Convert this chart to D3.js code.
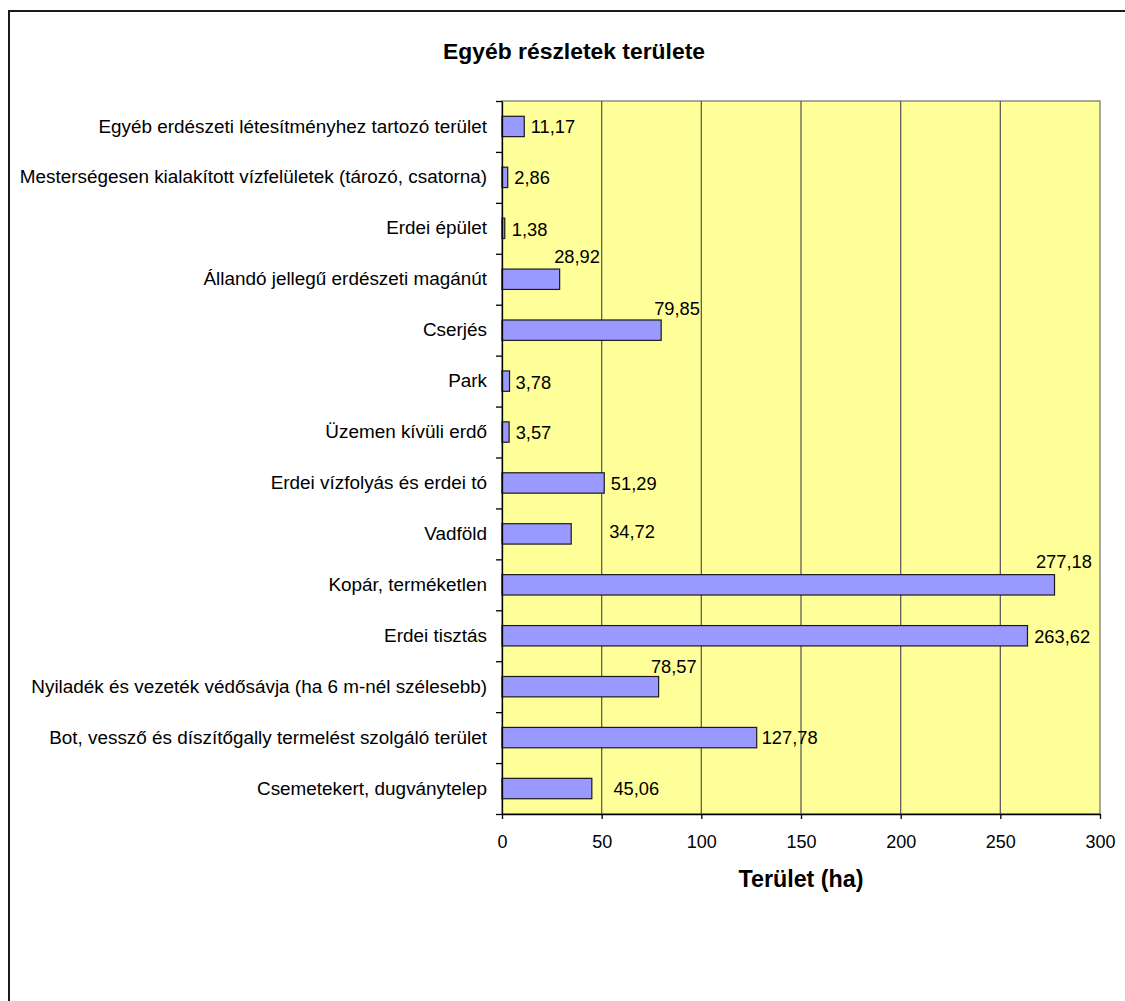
<!DOCTYPE html>
<html>
<head>
<meta charset="utf-8">
<script src="https://cdn.jsdelivr.net/npm/d3@7"></script>
<style>
    body { margin: 0; background: #fff; }
    text { font-family: "Liberation Sans", Arial, sans-serif; }
</style>
</head>
<body>
<div id="chart"></div>
<script>
// chart data
var categories = [
    "Egyéb erdészeti létesítményhez tartozó terület",
    "Mesterségesen kialakított vízfelületek (tározó, csatorna)",
    "Erdei épület",
    "Állandó jellegű erdészeti magánút",
    "Cserjés",
    "Park",
    "Üzemen kívüli erdő",
    "Erdei vízfolyás és erdei tó",
    "Vadföld",
    "Kopár, terméketlen",
    "Erdei tisztás",
    "Nyiladék és vezeték védősávja (ha 6 m-nél szélesebb)",
    "Bot, vessző és díszítőgally termelést szolgáló terület",
    "Csemetekert, dugványtelep"
];
var areas = [11.17, 2.86, 1.38, 28.92, 79.85, 3.78, 3.57, 51.29, 34.72, 277.18, 263.62, 78.57, 127.78, 45.06];
var xTicks = [0, 50, 100, 150, 200, 250, 300];
var chartTitle = "Egyéb részletek területe";
var xTitle = "Terület (ha)";

// label offsets from the bar end (Excel placed some of them above the bar)
var labelDx = [6.5, 6.6, 7, -5.5, -7, 6, 6.6, 6.6, 38, -18.6, 6.7, -7.7, 5, 21.6];
var labelDy = [0, 0, 0.7, -23, -22, 1, 0.6, 0.3, -2, -23, 1, -20.7, 0, -0.3];

var svgWidth = 1125;
var svgHeight = 1001;

// plot area
var plot = { left: 502, right: 1100, top: 101, bottom: 814 };

var svg = d3.select("#chart")
    .append("svg")
    .attr("width", svgWidth)
    .attr("height", svgHeight);

// outer chart frame (runs off the right and bottom of the picture)
svg.append("rect")
    .attr("x", 9)
    .attr("y", 11)
    .attr("width", svgWidth + 20)
    .attr("height", svgHeight + 20)
    .attr("fill", "#fff")
    .attr("stroke", "#1a1a1a")
    .attr("stroke-width", 2);

// scales
var xScale = d3.scaleLinear()
    .domain([0, 300])
    .range([plot.left, plot.right]);

var yScale = d3.scaleBand()
    .domain(categories)
    .range([plot.top, plot.bottom])
    .paddingInner(0.6)
    .paddingOuter(0.3);

// boundaries between categories, for the left tick marks
var yEdge = d3.scaleLinear()
    .domain([0, categories.length])
    .range([plot.top, plot.bottom]);

// plot background
svg.append("rect")
    .attr("x", plot.left)
    .attr("y", plot.top)
    .attr("width", plot.right - plot.left)
    .attr("height", plot.bottom - plot.top)
    .attr("fill", "#ffff99")
    .attr("stroke", "#8a8a8a")
    .attr("stroke-width", 1.5);

// vertical gridlines
svg.append("g")
    .selectAll("line")
    .data(xTicks.slice(1, -1))
    .enter()
    .append("line")
    .attr("x1", d => xScale(d))
    .attr("x2", d => xScale(d))
    .attr("y1", plot.top)
    .attr("y2", plot.bottom)
    .attr("stroke", "#5e5e5e")
    .attr("stroke-width", 1.3);

// bars
svg.append("g")
    .selectAll("rect")
    .data(areas)
    .enter()
    .append("rect")
    .attr("x", xScale(0))
    .attr("y", (d, i) => yScale(categories[i]))
    .attr("width", d => xScale(d) - xScale(0))
    .attr("height", yScale.bandwidth())
    .attr("fill", "#9999ff")
    .attr("stroke", "#1a1a1a")
    .attr("stroke-width", 1.2);

// value labels, comma as decimal separator
var huFormat = d3.formatLocale({ decimal: ",", thousands: " ", grouping: [3], currency: ["", " Ft"] }).format(".2f");

svg.append("g")
    .selectAll("text")
    .data(areas)
    .enter()
    .append("text")
    .attr("x", (d, i) => xScale(d) + labelDx[i])
    .attr("y", (d, i) => yScale(categories[i]) + yScale.bandwidth() / 2 + labelDy[i])
    .attr("dy", "0.36em")
    .style("font-size", "18.3px")
    .style("fill", "#000")
    .text(d => huFormat(d));

// left axis: category names
var leftAxis = d3.axisLeft(yScale).tickSize(0).tickPadding(15);
var yAxis = svg.append("g")
    .attr("transform", `translate(${plot.left}, 0)`)
    .call(leftAxis);
yAxis.select(".domain").remove();
yAxis.selectAll("text")
    .style("font-size", "18.9px")
    .style("fill", "#000");

// left axis: line and tick marks between categories
var edgeAxis = d3.axisLeft(yEdge)
    .tickValues(d3.range(categories.length + 1))
    .tickSize(6)
    .tickSizeOuter(0)
    .tickFormat("");
svg.append("g")
    .attr("transform", `translate(${plot.left}, 0)`)
    .call(edgeAxis)
    .selectAll("line, path")
    .attr("stroke", "#000")
    .attr("stroke-width", 1.3);

// bottom axis
var bottomAxis = d3.axisBottom(xScale)
    .tickValues(xTicks)
    .tickSize(5)
    .tickSizeOuter(0)
    .tickPadding(16);
var xAxis = svg.append("g")
    .attr("transform", `translate(0, ${plot.bottom})`)
    .call(bottomAxis);
xAxis.selectAll("line, path")
    .attr("stroke", "#000")
    .attr("stroke-width", 1.3);
xAxis.selectAll("text")
    .style("font-size", "18px")
    .style("fill", "#000");

// titles
svg.append("text")
    .attr("x", 574)
    .attr("y", 59)
    .attr("text-anchor", "middle")
    .style("font-size", "22.9px")
    .style("font-weight", "bold")
    .text(chartTitle);

svg.append("text")
    .attr("x", 801)
    .attr("y", 887)
    .attr("text-anchor", "middle")
    .style("font-size", "23.3px")
    .style("font-weight", "bold")
    .text(xTitle);
</script>
</body>
</html>
